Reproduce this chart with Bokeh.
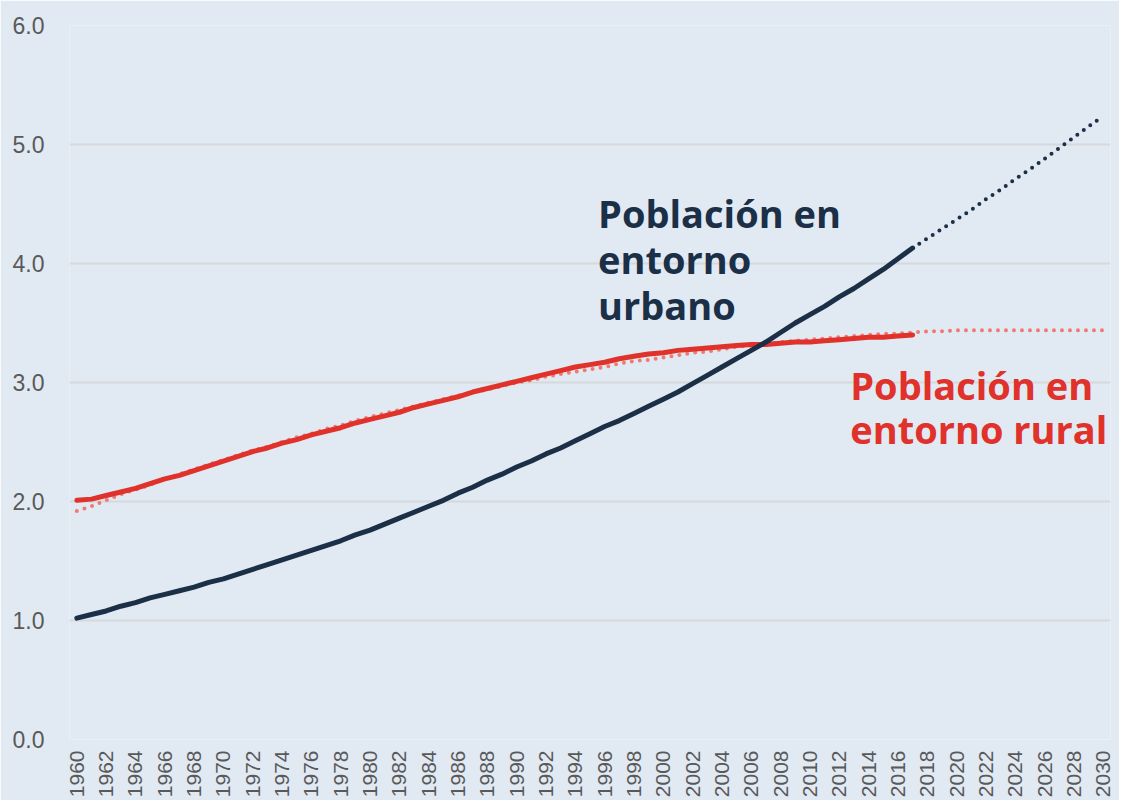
from bokeh.plotting import figure
from bokeh.models import FixedTicker, Range1d, Label, CustomJSTickFormatter
from bokeh.embed import file_html
from bokeh.resources import INLINE
import math

years = list(range(1960, 2018))
urban = [1.02, 1.05, 1.08, 1.12, 1.15, 1.19, 1.22, 1.25, 1.28, 1.32,
         1.35, 1.39, 1.43, 1.47, 1.51, 1.55, 1.59, 1.63, 1.67, 1.72,
         1.76, 1.81, 1.86, 1.91, 1.96, 2.01, 2.07, 2.12, 2.18, 2.23,
         2.29, 2.34, 2.40, 2.45, 2.51, 2.57, 2.63, 2.68, 2.74, 2.80,
         2.86, 2.92, 2.99, 3.06, 3.13, 3.20, 3.27, 3.34, 3.42, 3.50,
         3.57, 3.64, 3.72, 3.79, 3.87, 3.95, 4.04, 4.13]
rural = [2.01, 2.02, 2.05, 2.08, 2.11, 2.15, 2.19, 2.22, 2.26, 2.30,
         2.34, 2.38, 2.42, 2.45, 2.49, 2.52, 2.56, 2.59, 2.62, 2.66,
         2.69, 2.72, 2.75, 2.79, 2.82, 2.85, 2.88, 2.92, 2.95, 2.98,
         3.01, 3.04, 3.07, 3.10, 3.13, 3.15, 3.17, 3.20, 3.22, 3.24,
         3.25, 3.27, 3.28, 3.29, 3.30, 3.31, 3.32, 3.32, 3.33, 3.34,
         3.34, 3.35, 3.36, 3.37, 3.38, 3.38, 3.39, 3.40]

trend_years = list(range(1960, 2031))
rural_trend = [1.92, 1.96, 2.01, 2.06, 2.10, 2.14, 2.19, 2.23, 2.27, 2.31,
               2.35, 2.39, 2.43, 2.46, 2.50, 2.54, 2.57, 2.61, 2.64, 2.68,
               2.71, 2.74, 2.77, 2.80, 2.83, 2.86, 2.89, 2.92, 2.94, 2.97,
               3.00, 3.02, 3.05, 3.07, 3.09, 3.11, 3.13, 3.16, 3.18, 3.19,
               3.21, 3.23, 3.25, 3.26, 3.28, 3.30, 3.31, 3.32, 3.34, 3.35,
               3.36, 3.37, 3.38, 3.39, 3.40, 3.41, 3.41, 3.42, 3.43, 3.43,
               3.44, 3.44, 3.44, 3.44, 3.44, 3.44, 3.44, 3.44, 3.44, 3.44,
               3.44]

proj_years = list(range(2017, 2031))
urban_trend = [4.13, 4.21, 4.29, 4.37, 4.45, 4.54, 4.62, 4.71, 4.79, 4.88,
               4.97, 5.06, 5.15, 5.24]

x_ticks = list(range(1960, 2031, 2))
y_ticks = [0, 1, 2, 3, 4, 5, 6]

urban_label = ["Población en", "entorno", "urbano"]
rural_label = ["Población en", "entorno rural"]

BG = "#e1e9f3"
NAVY = "#1b2f47"
RED = "#e0312a"
SALMON = "#f07a72"

p = figure(width=1119, height=800, output_backend="svg", toolbar_location=None,
           x_range=Range1d(1959.5, 2030.5), y_range=Range1d(0, 6),
           min_border_left=69, min_border_right=9, min_border_top=25, min_border_bottom=59)
p.background_fill_color = BG
p.border_fill_color = BG
p.outline_line_color = None

p.xgrid.grid_line_color = None
p.ygrid.grid_line_color = "#d6d9dc"
p.ygrid.grid_line_width = 2
p.ygrid.ticker = FixedTicker(ticks=y_ticks)

p.xaxis.ticker = FixedTicker(ticks=x_ticks)
p.yaxis.ticker = FixedTicker(ticks=y_ticks)
p.yaxis.formatter = CustomJSTickFormatter(code="return tick.toFixed(1);")
for ax in (p.xaxis, p.yaxis):
    ax.axis_line_color = None
    ax.major_tick_line_color = None
    ax.minor_tick_line_color = None
    ax.major_label_text_font = "Liberation Sans"
    ax.major_label_text_color = "#595959"
p.yaxis.major_label_text_font_size = "23px"
p.xaxis.major_label_text_font_size = "21px"
p.xaxis.major_label_orientation = math.pi / 2
p.xaxis.major_label_standoff = 5
p.yaxis.major_label_standoff = 19

p.line(trend_years, rural_trend, line_color=SALMON, line_width=4, line_dash="0 8", line_cap="round")
p.line(years, rural, line_color=RED, line_width=5, line_cap="round")
p.line(proj_years, urban_trend, line_color=NAVY, line_width=4, line_dash="0 8", line_cap="round")
p.line(years, urban, line_color=NAVY, line_width=5, line_cap="round")

font = "Open Sans"
for txt, yy in zip(urban_label, (4.425, 4.04, 3.655)):
    p.add_layout(Label(x=1995.55, y=yy, text=txt, text_font=font, text_font_style="bold",
                       text_font_size="38px", text_color=NAVY, text_baseline="alphabetic",
                       text_align="left"))
for txt, yy in zip(rural_label, (2.983, 2.606)):
    p.add_layout(Label(x=2012.75, y=yy, text=txt, text_font=font, text_font_style="bold",
                       text_font_size="38px", text_color=RED, text_baseline="alphabetic",
                       text_align="left"))

open("out.html", "w").write(file_html(p, INLINE))
